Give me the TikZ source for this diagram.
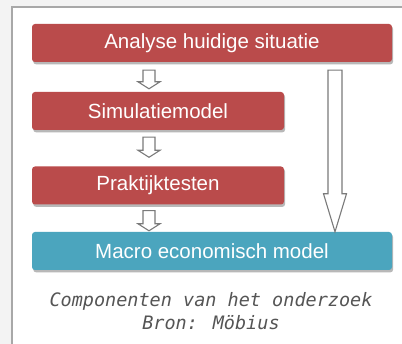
\documentclass[tikz,border=0pt]{standalone}
\usepackage{fontspec}
\setmainfont{Liberation Sans}
\newfontfamily\capfont{DejaVu Sans Mono}
\usetikzlibrary{calc,shadows}
\definecolor{boxred}{HTML}{BA4B4B}
\definecolor{boxteal}{HTML}{4BA5BE}
\definecolor{framegray}{HTML}{A8A8A8}
\definecolor{pagegray}{HTML}{F3F3F3}
\definecolor{arrowgray}{HTML}{7A7A7A}
\definecolor{captiongray}{HTML}{555555}
\tikzset{
  stepbox/.style={rectangle, rounded corners=3pt, minimum height=38pt,
    text=white, font=\fontsize{20.5}{22}\selectfont, inner sep=0pt,
    general shadow={shadow xshift=1.2pt, shadow yshift=-2.4pt, fill=black!28}},
  redbox/.style={stepbox, fill=boxred},
  tealbox/.style={stepbox, fill=boxteal},
  blockarr/.style={draw=arrowgray, fill=white, line width=1.1pt, line join=miter},
  caption/.style={text=captiongray, font=\capfont\itshape\fontsize{18.5}{23}\selectfont, align=center, inner sep=0pt}
}
% hollow block arrow from #1 (middle of shaft top) to #2 (tip)
% #3 shaft half width, #4 head half width, #5 head length
\newcommand{\blockarrow}[5]{%
  \draw[blockarr] let \p1=(#1), \p2=(#2) in
    (\x1-#3pt,\y1) -- (\x1+#3pt,\y1) -- (\x1+#3pt,\y2+#5pt) -- (\x1+#4pt,\y2+#5pt)
    -- (\x2,\y2) -- (\x1-#4pt,\y2+#5pt) -- (\x1-#3pt,\y2+#5pt) -- cycle;}
\begin{document}
\begin{tikzpicture}[x=1pt,y=1pt]
\useasboundingbox (0,0) rectangle (402,344);
% page and framed panel
\fill[pagegray] (0,0) rectangle (402,344);
\fill[white] (12,0) rectangle (402,337);
\draw[framegray, line width=1.3pt] (12,-2) -- (12,337) -- (404,337);

% process steps
\node[redbox, minimum width=360pt] (ana) at (212,301) {Analyse huidige situatie};
\node[redbox, minimum width=252pt] (sim) at (158,233) {Simulatiemodel};
\node[redbox, minimum width=252pt] (prak) at (158,158.5) {Praktijktesten};
\node[tealbox, minimum width=360pt] (mac) at (212,93) {Macro economisch model};

% connectors
\coordinate (a1s) at ($(ana.south)+(-63,-8)$);
\coordinate (a1t) at ($(sim.north)+(-9,3)$);
\coordinate (a2s) at ($(sim.south)+(-9,-7)$);
\coordinate (a2t) at ($(prak.north)+(-9,9)$);
\coordinate (a3s) at ($(prak.south)+(-9,-6)$);
\coordinate (a3t) at ($(mac.north)+(-63,1)$);
\coordinate (bigs) at ($(ana.south)+(123,-8)$);
\coordinate (bigt) at ($(mac.north)+(123,0)$);
\blockarrow{a1s}{a1t}{6}{11}{7}
\blockarrow{a2s}{a2t}{6}{11}{7}
\blockarrow{a3s}{a3t}{6}{11}{7}
\blockarrow{bigs}{bigt}{7}{11.5}{38}

% caption
\node[caption] (cap) at (211,33) {Componenten van het onderzoek\\Bron: Möbius};
\end{tikzpicture}
\end{document}
